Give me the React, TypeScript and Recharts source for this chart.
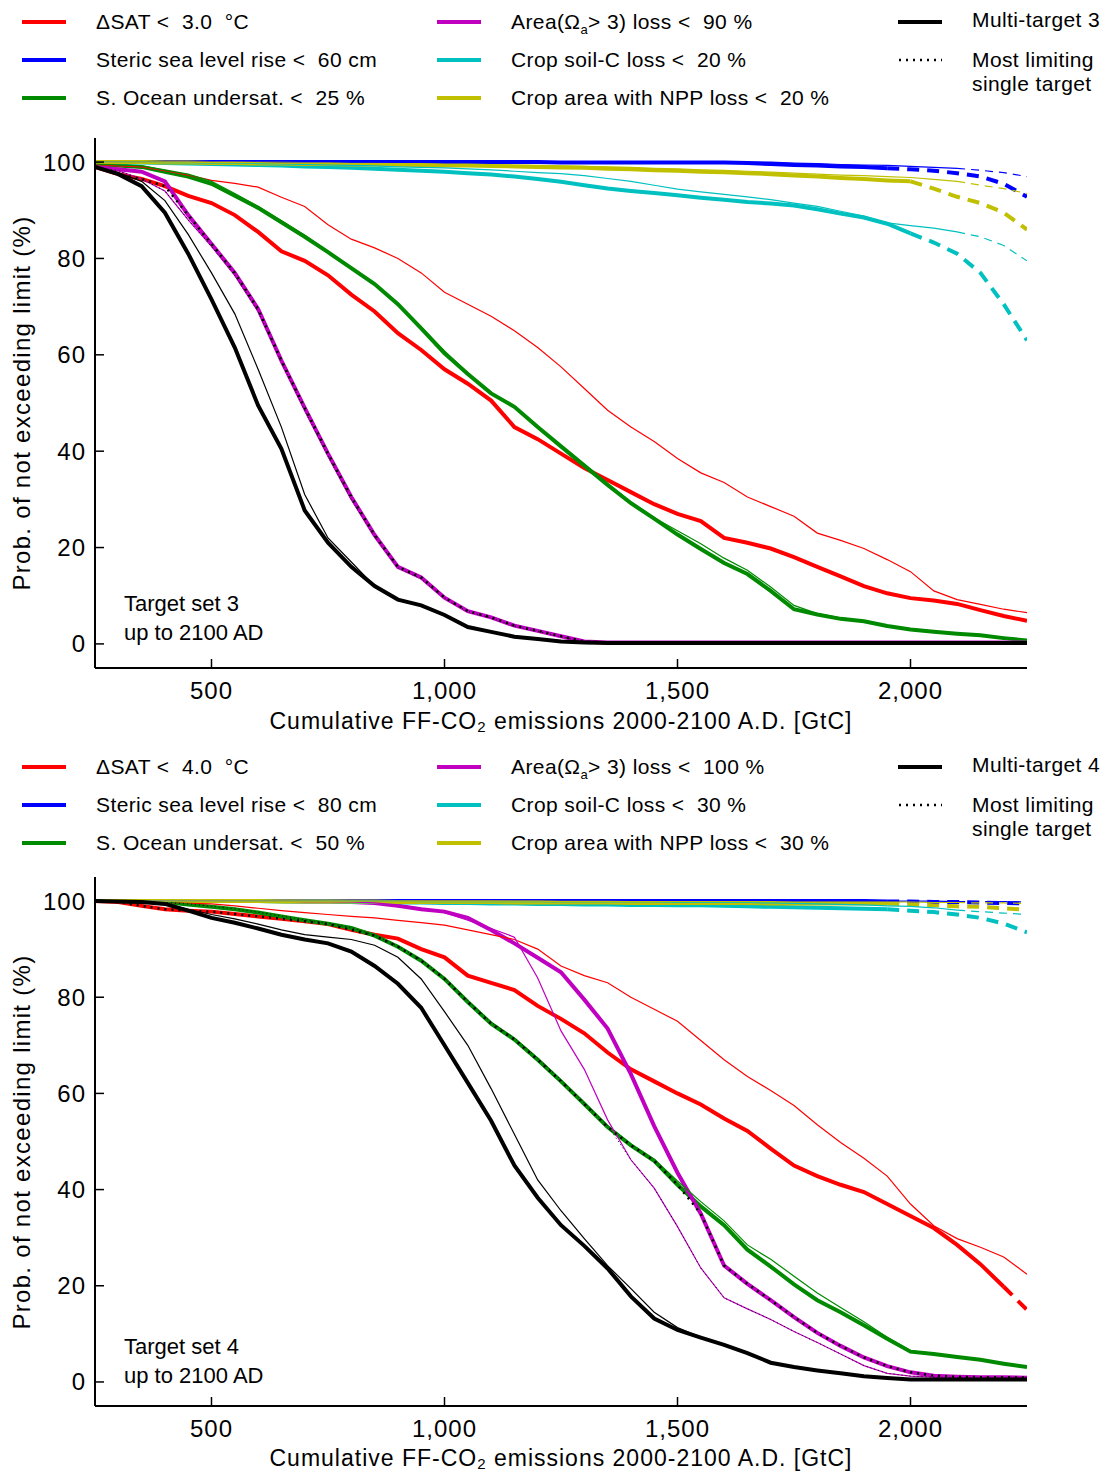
import React from 'react';
import { LineChart, Line, XAxis, YAxis } from 'recharts';

const FONT = '"Liberation Sans", Arial, Helvetica, sans-serif';

const emissions = [
  250, 300, 350, 400, 450, 500, 550, 600, 650, 700, 750, 800, 850, 900, 950, 1000,
  1050, 1100, 1150, 1200, 1250, 1300, 1350, 1400, 1450, 1500, 1550, 1600, 1650, 1700,
  1750, 1800, 1850, 1900, 1950, 2000, 2050, 2100, 2150, 2200, 2250,
];
const xTicks = [500, 1000, 1500, 2000];
const yTicks = [0, 20, 40, 60, 80, 100];

// ---- target set 3 ----
const sat3 = [99, 97.5, 96.5, 95, 93, 91.5, 89, 85.5, 81.5, 79.5, 76.5, 72.5, 69, 64.5, 61, 57, 54, 50.5, 45, 42.5, 39.5, 36.5, 34, 31.5, 29, 27, 25.5, 22, 21, 19.8, 18, 16, 14, 12, 10.5, 9.5, 9, 8.3, 7, 5.8, 4.8];
const sat3Thin = [99.5, 99.2, 99, 98.2, 97.3, 96.2, 95.6, 94.8, 92.7, 90.8, 87, 84, 82.2, 80, 77, 73, 70.5, 68, 65, 61.5, 57.5, 53, 48.5, 45, 42, 38.5, 35.5, 33.5, 30.5, 28.5, 26.5, 23, 21.5, 19.8, 17.5, 15, 11, 9.2, 8.2, 7.2, 6.5];
const steric3 = [100, 100, 100, 100, 100, 100, 100, 100, 100, 100, 100, 100, 100, 100, 100, 100, 100, 100, 100, 100, 99.9, 99.9, 99.9, 99.9, 99.9, 99.9, 99.9, 99.9, 99.8, 99.6, 99.4, 99.3, 99.1, 99, 98.7, 98.5, 98.2, 97.7, 97, 95.5, 92.8];
const steric3Thin = [100, 100, 100, 100, 100, 100, 100, 100, 100, 100, 100, 100, 100, 100, 100, 100, 100, 100, 100, 100, 100, 100, 100, 100, 100, 100, 100, 100, 100, 100, 99.8, 99.7, 99.5, 99.4, 99.3, 99.1, 98.9, 98.7, 98.3, 97.8, 97];
const ocean3 = [99.5, 99.3, 99, 98, 97, 95.5, 93, 90.5, 87.5, 84.5, 81.3, 78, 74.7, 70.5, 65.5, 60.3, 56, 52, 49.2, 45, 41, 37, 33, 29.2, 26, 22.7, 19.7, 16.8, 14.5, 11, 7.2, 6.1, 5.2, 4.7, 3.7, 3, 2.5, 2.1, 1.8, 1.2, 0.7];
const ocean3Thin = [99.6, 99.4, 99.2, 98.4, 97.5, 96, 93.5, 90.8, 87.8, 84.8, 81.5, 78, 74.5, 70.5, 65.8, 60.8, 56.3, 52, 49, 45, 41.2, 37.3, 33.2, 29.5, 26.2, 23.5, 20.8, 17.8, 15.3, 11.8, 8, 6.3, 5.4, 4.8, 3.8, 3.1, 2.6, 2.2, 1.9, 1.3, 0.8];
const arag3 = [99, 98.5, 98, 96, 89, 83, 77, 69.5, 58.8, 49, 39.5, 30.5, 22.6, 16, 13.8, 9.6, 6.8, 5.5, 3.8, 2.7, 1.6, 0.5, 0.3, 0.3, 0.3, 0.3, 0.3, 0.3, 0.3, 0.3, 0.3, 0.3, 0.3, 0.3, 0.3, 0.3, 0.3, 0.3, 0.3, 0.3, 0.3];
const arag3Thin = [99, 98.2, 96.5, 94, 88, 82.5, 76.5, 69, 58.5, 48.5, 39, 30, 22.3, 15.8, 13.5, 9.5, 6.7, 5.4, 3.7, 2.6, 1.5, 0.5, 0.3, 0.3, 0.3, 0.3, 0.3, 0.3, 0.3, 0.3, 0.3, 0.3, 0.3, 0.3, 0.3, 0.3, 0.3, 0.3, 0.3, 0.3, 0.3];
const soil3 = [100, 99.9, 99.9, 99.8, 99.7, 99.6, 99.5, 99.4, 99.3, 99.1, 99, 98.8, 98.6, 98.4, 98.2, 98, 97.7, 97.4, 97, 96.5, 95.9, 95.2, 94.5, 94, 93.6, 93.1, 92.6, 92.2, 91.7, 91.4, 91, 90.2, 89.3, 88.5, 87.2, 85.2, 83.3, 81, 77, 70.5, 63];
const soil3Thin = [100, 100, 100, 99.9, 99.9, 99.8, 99.8, 99.7, 99.6, 99.5, 99.4, 99.3, 99.2, 99, 98.9, 98.8, 98.6, 98.4, 98.1, 97.8, 97.6, 97.2, 96.6, 96, 95.2, 94.4, 93.8, 93.3, 92.8, 92.2, 91.5, 90.8, 89.8, 88.8, 87.4, 86.8, 86.3, 85.5, 84.5, 82.7, 79.5];
const npp3 = [100, 100, 100, 99.9, 99.9, 99.8, 99.8, 99.7, 99.7, 99.6, 99.6, 99.5, 99.5, 99.4, 99.4, 99.3, 99.3, 99.2, 99.1, 99, 98.9, 98.8, 98.6, 98.5, 98.3, 98.2, 98, 97.9, 97.7, 97.5, 97.2, 97, 96.7, 96.5, 96.2, 96, 94.5, 92.8, 91.5, 89.5, 86];
const npp3Thin = [100, 100, 100, 100, 100, 99.9, 99.9, 99.9, 99.8, 99.8, 99.8, 99.7, 99.7, 99.6, 99.6, 99.5, 99.5, 99.4, 99.4, 99.3, 99.2, 99.1, 99, 98.9, 98.7, 98.6, 98.4, 98.3, 98.1, 97.9, 97.7, 97.5, 97.3, 97.2, 97, 96.8, 96.4, 96, 95.2, 94.5, 93.5];
const multi3 = [99, 97.5, 95, 89.5, 81, 71.5, 61.5, 49.5, 40.5, 27.7, 21, 16, 12, 9.2, 8, 6, 3.5, 2.5, 1.5, 1, 0.5, 0.3, 0.2, 0.2, 0.2, 0.2, 0.2, 0.2, 0.2, 0.2, 0.2, 0.2, 0.2, 0.2, 0.2, 0.2, 0.2, 0.2, 0.2, 0.2, 0.2];
const multi3Thin = [99, 97.8, 96, 92, 85, 77, 68.5, 57, 45, 31, 22, 17, 12, 9.2, 8, 6, 3.5, 2.5, 1.5, 1, 0.5, 0.3, 0.2, 0.2, 0.2, 0.2, 0.2, 0.2, 0.2, 0.2, 0.2, 0.2, 0.2, 0.2, 0.2, 0.2, 0.2, 0.2, 0.2, 0.2, 0.2];

// ---- target set 4 ----
const sat4 = [100, 99.8, 99, 98.3, 98, 97.8, 97.3, 96.8, 96.3, 95.8, 95.2, 94, 93, 92.2, 90, 88.3, 84.5, 83, 81.5, 78.2, 75.5, 72.5, 68.5, 65, 62.5, 60, 57.7, 54.8, 52.2, 48.5, 45, 42.8, 41, 39.5, 37, 34.5, 32, 28.5, 24.5, 19.8, 15];
const sat4Thin = [100, 99.9, 99.8, 99.7, 99.5, 99.4, 99, 98.5, 98, 97.6, 97.2, 96.8, 96.5, 96, 95.5, 95, 94, 93, 92, 90, 86.5, 84.5, 83, 80, 77.5, 75, 71, 67, 63.5, 60.6, 57.5, 53.5, 49.8, 46.5, 42.8, 37, 32.5, 29.8, 28, 26, 22.4];
const steric4 = [100, 100, 100, 100, 100, 100, 100, 100, 100, 100, 100, 100, 100, 100, 100, 100, 100, 100, 100, 100, 100, 100, 100, 100, 100, 100, 100, 100, 100, 100, 100, 100, 100, 100, 99.9, 99.9, 99.8, 99.8, 99.7, 99.6, 99.5];
const steric4Thin = [100, 100, 100, 100, 100, 100, 100, 100, 100, 100, 100, 100, 100, 100, 100, 100, 100, 100, 100, 100, 100, 100, 100, 100, 100, 100, 100, 100, 100, 100, 100, 100, 100, 100, 100, 100, 100, 99.9, 99.9, 99.9, 99.8];
const ocean4 = [100, 100, 99.9, 99.8, 99.3, 98.8, 98.3, 97.6, 96.8, 96, 95.3, 94.4, 92.8, 90.5, 87.6, 83.8, 79, 74.5, 71.2, 67, 62.5, 57.8, 53, 49.2, 46, 41, 36.5, 32.6, 27.5, 24, 20.3, 17, 14.5, 11.8, 9, 6.3, 5.8, 5.2, 4.6, 3.8, 3.1];
const ocean4Thin = [100, 100, 99.9, 99.8, 99.4, 98.9, 98.4, 97.7, 96.9, 96.1, 95.4, 94.5, 92.9, 90.6, 87.8, 84, 79.3, 74.8, 71.5, 67.3, 62.8, 58, 53.3, 49.5, 46.3, 41.8, 37.5, 33.5, 28.5, 25.5, 22, 18.5, 15.5, 12.5, 9.3, 6.5, 5.9, 5.3, 4.7, 3.9, 3.2];
const arag4 = [100, 100, 100, 100, 100, 100, 100, 100, 100, 99.9, 99.9, 99.8, 99.6, 99, 98.3, 97.8, 96.5, 94, 91.2, 88.2, 85.2, 79.5, 73.5, 64, 53.2, 43.5, 35, 24.2, 20.4, 17, 13.5, 10.2, 7.5, 5.1, 3.3, 2, 1.3, 1.1, 1, 1, 0.9];
const arag4Thin = [100, 100, 100, 100, 100, 100, 100, 100, 100, 99.9, 99.9, 99.8, 99.6, 99.2, 98.5, 97.6, 96, 94.3, 92.5, 84, 73, 65, 54.5, 46.2, 40.3, 32.3, 23.7, 17.5, 15.2, 13, 10.5, 8.2, 5.8, 3.4, 1.8, 1.2, 1, 0.9, 0.8, 0.8, 0.8];
const soil4 = [100, 100, 100, 100, 100, 100, 100, 100, 99.9, 99.9, 99.9, 99.8, 99.8, 99.7, 99.7, 99.6, 99.6, 99.5, 99.5, 99.4, 99.4, 99.3, 99.3, 99.2, 99.2, 99.1, 99.1, 99, 98.9, 98.8, 98.7, 98.6, 98.5, 98.4, 98.3, 98, 97.7, 97.2, 96.5, 95.3, 93.5];
const soil4Thin = [100, 100, 100, 100, 100, 100, 100, 100, 100, 100, 100, 100, 100, 100, 99.9, 99.9, 99.9, 99.9, 99.9, 99.9, 99.8, 99.8, 99.8, 99.8, 99.8, 99.7, 99.7, 99.7, 99.7, 99.6, 99.5, 99.4, 99.3, 99.2, 99, 98.9, 98.6, 98.1, 97.8, 97.5, 97.2];
const npp4 = [100, 100, 100, 100, 100, 100, 100, 100, 99.9, 99.9, 99.9, 99.9, 99.9, 99.8, 99.8, 99.8, 99.8, 99.8, 99.7, 99.7, 99.7, 99.7, 99.7, 99.6, 99.6, 99.6, 99.6, 99.6, 99.6, 99.5, 99.5, 99.5, 99.5, 99.5, 99.5, 99.3, 99.1, 98.9, 98.8, 98.5, 98.2];
const npp4Thin = [100, 100, 100, 100, 100, 100, 100, 100, 100, 100, 100, 100, 100, 100, 100, 100, 100, 100, 100, 100, 99.9, 99.9, 99.9, 99.9, 99.9, 99.9, 99.9, 99.9, 99.9, 99.9, 99.8, 99.8, 99.8, 99.8, 99.8, 99.8, 99.7, 99.7, 99.6, 99.6, 99.5];
const multi4 = [100, 99.9, 99.8, 99.4, 98, 96.5, 95.5, 94.3, 93, 92, 91.2, 89.5, 86.5, 82.8, 77.8, 70, 62.2, 54.3, 45, 38.3, 32.6, 28.3, 23.6, 17.8, 13.2, 10.8, 9.2, 7.7, 6, 4, 3.1, 2.4, 1.8, 1.2, 0.8, 0.5, 0.5, 0.5, 0.5, 0.5, 0.5];
const multi4Thin = [100, 99.9, 99.8, 99.5, 98.3, 97.2, 96.3, 95.2, 94, 93, 92.5, 92, 90.8, 88.3, 83.8, 77, 70, 61, 51.5, 42, 35.6, 29.8, 24.2, 19.4, 14.5, 11.3, 9.3, 7.8, 6.1, 4.1, 3.2, 2.5, 1.9, 1.3, 0.9, 0.6, 0.6, 0.6, 0.6, 0.6, 0.6];

const RED = '#ff0000';
const BLUE = '#0000ff';
const GREEN = '#008a00';
const MAGENTA = '#c000c0';
const CYAN = '#00c0c0';
const YELLOW = '#c0c000';

type Spec = {
  key: string;
  values: number[];
  color: string;
  width: number;
  dashFrom?: number;
  dash?: string;
};

const thick = (key: string, values: number[], color: string, dashFrom?: number): Spec =>
  ({ key, values, color, width: 4, dashFrom, dash: '12 8' });
const thin = (key: string, values: number[], color: string, dashFrom?: number): Spec =>
  ({ key, values, color, width: 1.2, dashFrom, dash: '8 6' });

const set3Thick = [
  thick('sat', sat3, RED),
  thick('steric', steric3, BLUE, 1950),
  thick('ocean', ocean3, GREEN),
  thick('arag', arag3, MAGENTA),
  thick('soil', soil3, CYAN, 2000),
  thick('npp', npp3, YELLOW, 2000),
];
const set3Thin = [
  thin('satT', sat3Thin, RED),
  thin('stericT', steric3Thin, BLUE, 2100),
  thin('oceanT', ocean3Thin, GREEN),
  thin('aragT', arag3Thin, MAGENTA),
  thin('soilT', soil3Thin, CYAN, 2100),
  thin('nppT', npp3Thin, YELLOW, 2100),
];
const set4Thick = [
  thick('sat', sat4, RED, 2200),
  thick('steric', steric4, BLUE, 1950),
  thick('ocean', ocean4, GREEN),
  thick('arag', arag4, MAGENTA),
  thick('soil', soil4, CYAN, 1950),
  thick('npp', npp4, YELLOW, 1950),
];
const set4Thin = [
  thin('satT', sat4Thin, RED),
  thin('stericT', steric4Thin, BLUE, 2100),
  thin('oceanT', ocean4Thin, GREEN),
  thin('aragT', arag4Thin, MAGENTA),
  thin('soilT', soil4Thin, CYAN, 2100),
  thin('nppT', npp4Thin, YELLOW, 2100),
];

function buildRows(thickSpecs: Spec[], thinSpecs: Spec[], multi: number[], multiThin: number[]) {
  return emissions.map((x, i) => {
    const row: Record<string, number | null> = { x, multi: multi[i], multiT: multiThin[i] };
    [...thickSpecs, ...thinSpecs].forEach((s) => {
      const v = s.values[i];
      if (s.dashFrom === undefined) {
        row[s.key] = v;
      } else {
        row[s.key] = x <= s.dashFrom ? v : null;
        row[s.key + '_d'] = x >= s.dashFrom ? v : null;
      }
    });
    // most limiting single target = lowest of the single-target curves
    row.limit = Math.min(...thickSpecs.map((s) => s.values[i]));
    row.limitT = Math.min(...thinSpecs.map((s) => s.values[i]));
    return row;
  });
}

const fmt = (v: number) => v.toLocaleString('en-US');
const TICK_LEN = 9;
const tickText = { fontSize: 24, fill: '#000', fontFamily: FONT, letterSpacing: 1 };

// custom ticks: gnuplot-like inward tick marks (axis tickSize = 0, so x/y sit on the frame)
const BottomTick = (p: any) => (
  <g>
    <line x1={p.x} y1={p.y} x2={p.x} y2={p.y - TICK_LEN} stroke="#000" strokeWidth={1.5} />
    <text x={p.x} y={p.y + 31} textAnchor="middle" {...tickText}>{fmt(p.payload.value)}</text>
  </g>
);
const LeftTick = (p: any) => (
  <g>
    <line x1={p.x} y1={p.y} x2={p.x + TICK_LEN} y2={p.y} stroke="#000" strokeWidth={1.5} />
    <text x={p.x - 9} y={p.y + 8.5} textAnchor="end" {...tickText}>{p.payload.value}</text>
  </g>
);
const TopTick = (p: any) => (
  <line x1={p.x} y1={p.y} x2={p.x} y2={p.y + TICK_LEN} stroke="#000" strokeWidth={1.5} />
);
const RightTick = (p: any) => (
  <line x1={p.x} y1={p.y} x2={p.x - TICK_LEN} y2={p.y} stroke="#000" strokeWidth={1.5} />
);

function seriesLines(specs: Spec[]) {
  const out: React.ReactNode[] = [];
  specs.forEach((s) => {
    out.push(
      <Line key={s.key} xAxisId="b" yAxisId="l" type="linear" dataKey={s.key} stroke={s.color}
        strokeWidth={s.width} dot={false} activeDot={false} isAnimationActive={false} />
    );
    if (s.dashFrom !== undefined) {
      out.push(
        <Line key={s.key + '_d'} xAxisId="b" yAxisId="l" type="linear" dataKey={s.key + '_d'} stroke={s.color}
          strokeWidth={s.width} strokeDasharray={s.dash} dot={false} activeDot={false} isAnimationActive={false} />
      );
    }
  });
  return out;
}

type PanelProps = {
  top: number;
  height: number;
  marginTop: number;
  marginBottom: number;
  rows: Record<string, number | null>[];
  thickSpecs: Spec[];
  thinSpecs: Spec[];
};

const Panel: React.FC<PanelProps> = ({ top, height, marginTop, marginBottom, rows, thickSpecs, thinSpecs }) => (
  <div style={{ position: 'absolute', left: 0, top }}>
    <LineChart width={1113} height={height} data={rows}
      margin={{ top: marginTop, right: 86, bottom: marginBottom, left: 35 }}>
      <XAxis xAxisId="b" dataKey="x" type="number" domain={[250, 2250]} ticks={xTicks}
        tickLine={false} tickSize={0} tickMargin={0} height={60}
        stroke="#000" strokeWidth={2} tick={BottomTick} allowDataOverflow />
      <XAxis xAxisId="t" orientation="top" type="number" domain={[250, 2250]} ticks={xTicks}
        tickLine={false} tickSize={0} tickMargin={0} height={0}
        stroke="#000" strokeWidth={2} tick={TopTick} allowDataOverflow />
      <YAxis yAxisId="l" type="number" domain={[-5, 105]} ticks={yTicks}
        tickLine={false} tickSize={0} tickMargin={0} width={60}
        stroke="#000" strokeWidth={2} tick={LeftTick} allowDataOverflow />
      <YAxis yAxisId="r" orientation="right" type="number" domain={[-5, 105]} ticks={yTicks}
        tickLine={false} tickSize={0} tickMargin={0} width={0}
        stroke="#000" strokeWidth={2} tick={RightTick} allowDataOverflow />
      {seriesLines(thickSpecs)}
      {seriesLines(thinSpecs)}
      <Line xAxisId="b" yAxisId="l" type="linear" dataKey="multiT" stroke="#000" strokeWidth={1.2}
        dot={false} activeDot={false} isAnimationActive={false} />
      <Line xAxisId="b" yAxisId="l" type="linear" dataKey="multi" stroke="#000" strokeWidth={4}
        dot={false} activeDot={false} isAnimationActive={false} />
      <Line xAxisId="b" yAxisId="l" type="linear" dataKey="limitT" stroke="#000" strokeWidth={1}
        strokeDasharray="1 3" dot={false} activeDot={false} isAnimationActive={false} />
      <Line xAxisId="b" yAxisId="l" type="linear" dataKey="limit" stroke="#000" strokeWidth={2.5}
        strokeDasharray="2 5" dot={false} activeDot={false} isAnimationActive={false} />
    </LineChart>
  </div>
);

type LegendProps = { y: number; sat: string; steric: string; ocean: string; arag: string; soil: string; npp: string; setNo: number };

const txt: React.CSSProperties = {
  position: 'absolute', fontFamily: FONT, fontSize: 21, letterSpacing: 0.4, lineHeight: '26px',
  whiteSpace: 'pre', color: '#000',
};

const Swatch: React.FC<{ x: number; y: number; color: string }> = ({ x, y, color }) => (
  <div style={{ position: 'absolute', left: x, top: y - 2, width: 44, height: 4, background: color }} />
);

const LegendBlock: React.FC<LegendProps> = ({ y, sat, steric, ocean, arag, soil, npp, setNo }) => {
  const rowsY = [y, y + 38, y + 76];
  return (
    <>
      <Swatch x={22} y={rowsY[0]} color={RED} />
      <div style={{ ...txt, left: 96, top: rowsY[0] - 13 }}>{'\u0394SAT <  ' + sat + '  \u00b0C'}</div>
      <Swatch x={22} y={rowsY[1]} color={BLUE} />
      <div style={{ ...txt, left: 96, top: rowsY[1] - 13 }}>{'Steric sea level rise <  ' + steric + ' cm'}</div>
      <Swatch x={22} y={rowsY[2]} color={GREEN} />
      <div style={{ ...txt, left: 96, top: rowsY[2] - 13 }}>{'S. Ocean undersat. <  ' + ocean + ' %'}</div>

      <Swatch x={437} y={rowsY[0]} color={MAGENTA} />
      <div style={{ ...txt, left: 511, top: rowsY[0] - 13 }}>
        {'Area(\u03a9'}
        <sub style={{ fontSize: 13, verticalAlign: -5, lineHeight: 0 }}>a</sub>
        {'> 3) loss <  ' + arag + ' %'}
      </div>
      <Swatch x={437} y={rowsY[1]} color={CYAN} />
      <div style={{ ...txt, left: 511, top: rowsY[1] - 13 }}>{'Crop soil-C loss <  ' + soil + ' %'}</div>
      <Swatch x={437} y={rowsY[2]} color={YELLOW} />
      <div style={{ ...txt, left: 511, top: rowsY[2] - 13 }}>{'Crop area with NPP loss <  ' + npp + ' %'}</div>

      <Swatch x={898} y={rowsY[0]} color="#000" />
      <div style={{ ...txt, left: 972, top: rowsY[0] - 15 }}>{'Multi-target ' + setNo}</div>
      <svg style={{ position: 'absolute', left: 898, top: rowsY[1] - 3 }} width={46} height={6}>
        <line x1={1} y1={3} x2={44} y2={3} stroke="#000" strokeWidth={2.5} strokeDasharray="2 5" />
      </svg>
      <div style={{ ...txt, left: 972, top: rowsY[1] - 13 }}>{'Most limiting'}</div>
      <div style={{ ...txt, left: 972, top: rowsY[1] + 11 }}>{'single target'}</div>
    </>
  );
};

const axisText: React.CSSProperties = {
  position: 'absolute', fontFamily: FONT, fontSize: 24, lineHeight: '24px', color: '#000', whiteSpace: 'pre',
};

const XLabel: React.FC<{ y: number }> = ({ y }) => (
  <div style={{
    ...axisText, fontSize: 23, lineHeight: '23px', left: 161, width: 800, top: y - 11,
    textAlign: 'center', letterSpacing: 1,
  }}>
    Cumulative FF-CO<sub style={{ fontSize: 15, verticalAlign: -3, lineHeight: 0 }}>2</sub> emissions 2000-2100 A.D. [GtC]
  </div>
);

const YLabel: React.FC<{ y: number }> = ({ y }) => (
  <div style={{
    ...axisText, left: 22 - 250, width: 500, top: y - 12, textAlign: 'center', letterSpacing: 1.3,
    transform: 'rotate(-90deg)',
  }}>
    Prob. of not exceeding limit (%)
  </div>
);

const Note: React.FC<{ y: number; setNo: number }> = ({ y, setNo }) => (
  <>
    <div style={{ ...axisText, fontSize: 22, left: 124, top: y - 12 }}>{'Target set ' + setNo}</div>
    <div style={{ ...axisText, fontSize: 22, left: 124, top: y + 17 }}>{'up to 2100 AD'}</div>
  </>
);

const rows3 = buildRows(set3Thick, set3Thin, multi3, multi3Thin);
const rows4 = buildRows(set4Thick, set4Thin, multi4, multi4Thin);

export default function App() {
  return (
    <div style={{ position: 'absolute', left: 0, top: 0, width: 1113, height: 1472, background: '#fff', overflow: 'hidden' }}>
      <LegendBlock y={22} sat="3.0" steric="60" ocean="25" arag="90" soil="20" npp="20" setNo={3} />
      <Panel top={0} height={740} marginTop={138} marginBottom={12} rows={rows3}
        thickSpecs={set3Thick} thinSpecs={set3Thin} />
      <XLabel y={721} />
      <YLabel y={403} />
      <Note y={604} setNo={3} />

      <LegendBlock y={767} sat="4.0" steric="80" ocean="50" arag="100" soil="30" npp="30" setNo={4} />
      <Panel top={740} height={730} marginTop={137} marginBottom={4} rows={rows4}
        thickSpecs={set4Thick} thinSpecs={set4Thin} />
      <XLabel y={1458} />
      <YLabel y={1142} />
      <Note y={1347} setNo={4} />
    </div>
  );
}
